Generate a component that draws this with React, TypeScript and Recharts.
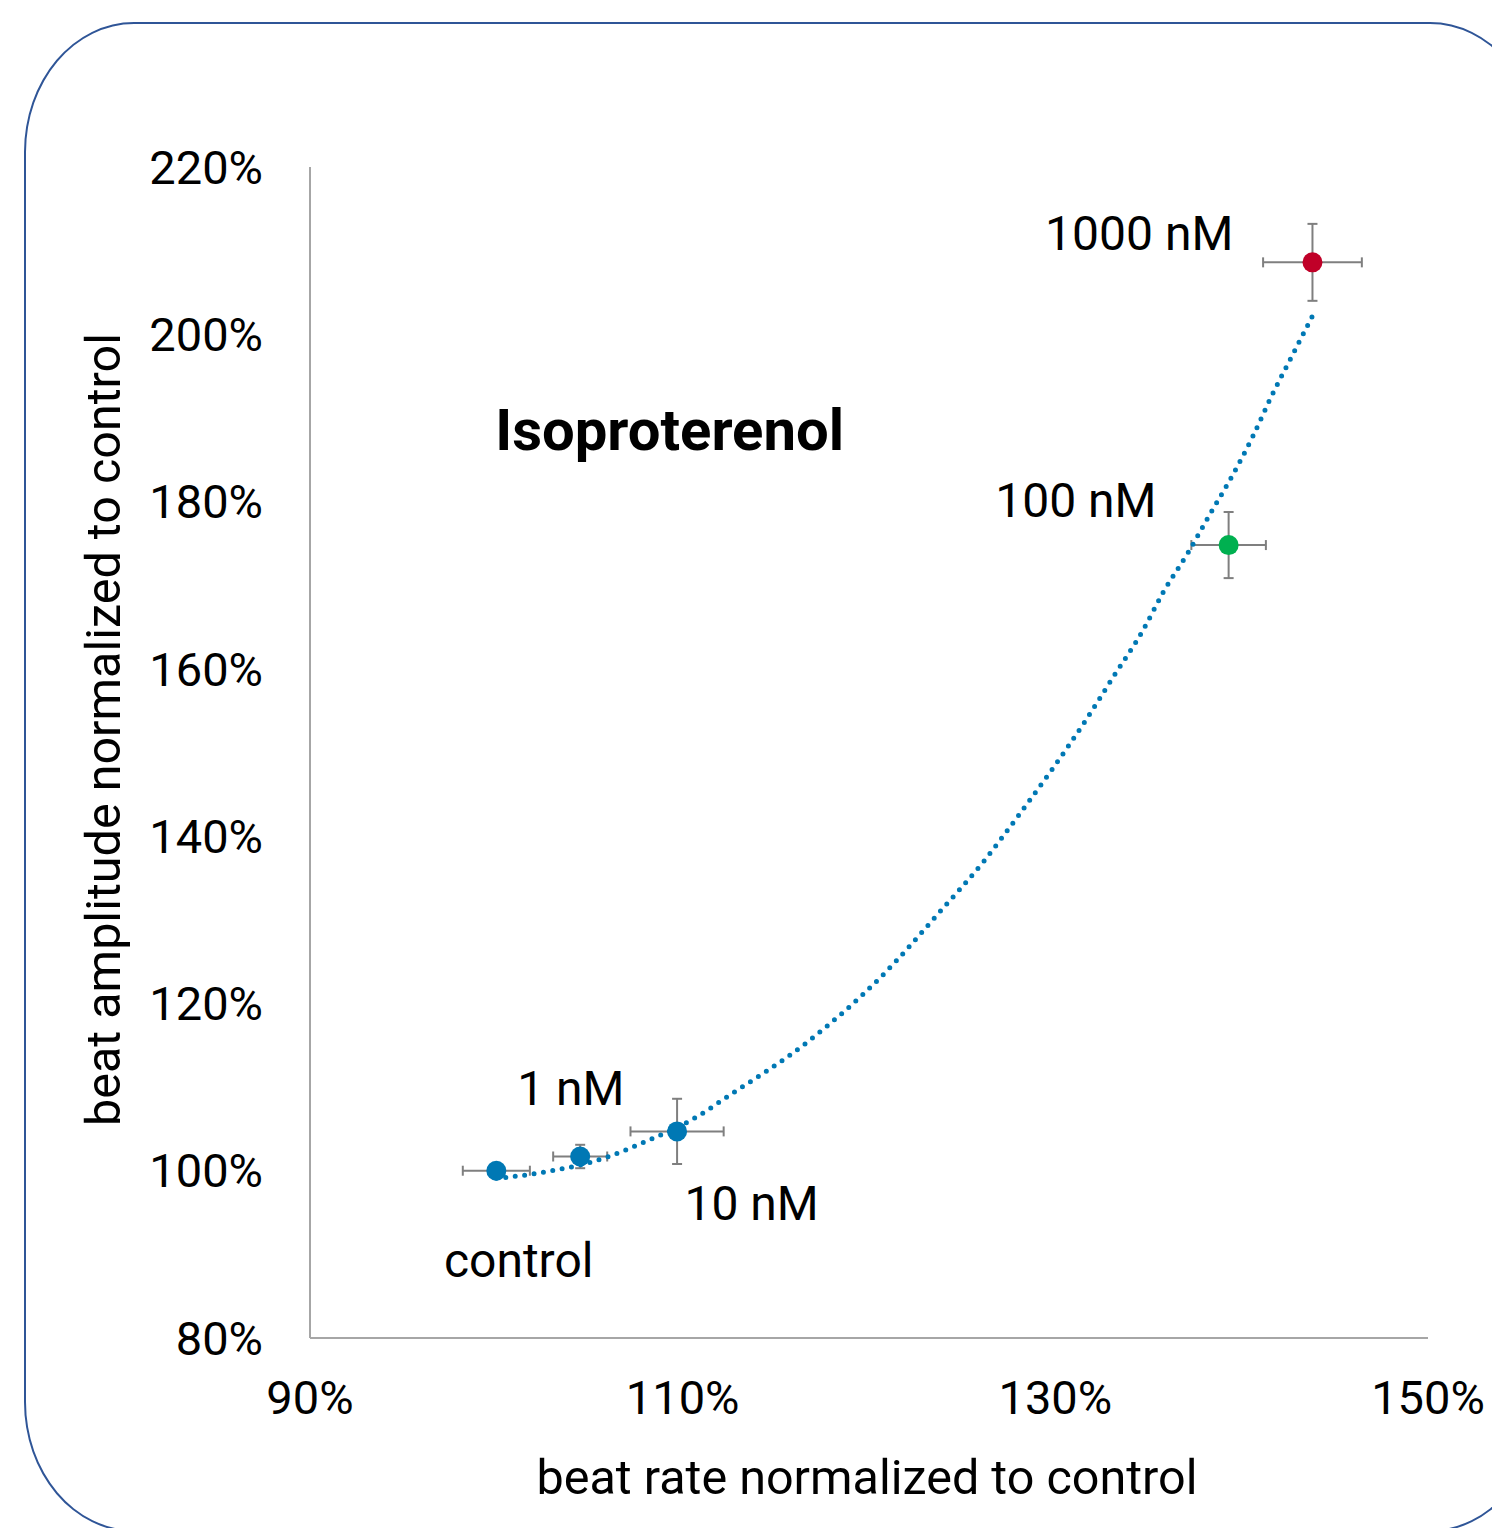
import React from 'react';
import {
  ScatterChart,
  Scatter,
  XAxis,
  YAxis,
  ErrorBar,
  ReferenceDot,
  Label,
  Cell,
} from 'recharts';

// ---- data ----
const doseLabels = ['control', '1 nM', '10 nM', '100 nM', '1000 nM'];
const beatRate = [100.0, 104.5, 109.7, 139.3, 143.8];
const beatAmplitude = [100.0, 101.7, 104.7, 174.8, 208.6];
const rateError = [1.8, 1.45, 2.5, 2.0, 2.65];
const amplitudeError = [0.3, 1.4, 3.9, 3.95, 4.6];
const pointColors = ['#0078B4', '#0078B4', '#0078B4', '#00B050', '#C00028'];

// trend line
const trendRate = [
  100.0, 100.5, 102.2, 105.9, 107.6, 110.8, 112.3, 116.7, 120.7, 123.9, 126.2, 128.0,
  129.8, 131.5, 133.1, 134.7, 135.8, 137.1, 138.3, 139.5, 140.6, 141.6, 142.7, 143.8,
];
const trendAmplitude = [
  99.1, 99.2, 99.7, 101.6, 103.1, 106.5, 108.7, 115.4, 123.3, 131.2, 137.1, 142.4,
  147.9, 153.4, 159.0, 164.6, 169.2, 173.8, 178.5, 183.1, 187.8, 192.6, 197.4, 202.2,
];

const xTicks = [90, 110, 130, 150];
const yTicks = [80, 100, 120, 140, 160, 180, 200, 220];

// annotation anchors (data coordinates of label centres)
const labelRate = [101.2, 104.0, 113.7, 131.1, 134.5];
const labelAmplitude = [89.3, 109.9, 96.1, 180.2, 212.1];
const drugName = 'Isoproterenol';
const drugRate = 109.3;
const drugAmplitude = 188.6;

const xTitle = 'beat rate normalized to control';
const yTitle = 'beat amplitude normalized to control';

const points = doseLabels.map((name, i) => ({
  name,
  x: beatRate[i],
  y: beatAmplitude[i],
  ex: rateError[i],
  ey: amplitudeError[i],
}));
const trend = trendRate.map((x, i) => ({ x, y: trendAmplitude[i] }));

const FONT = 'Roboto, "Noto Sans", sans-serif';
const BLUE = '#0078B4';
const MARKER_R = 10;

const XTitle = (props: any) => {
  const vb = props.viewBox;
  return (
    <text x={vb.x + vb.width / 2 - 2} y={vb.y + 156} textAnchor="middle" fontSize={48.5} fontFamily={FONT} fill="#000">
      {xTitle}
    </text>
  );
};

const YTitle = (props: any) => {
  const vb = props.viewBox;
  const cx = vb.x + 60;
  const cy = vb.y + vb.height / 2 - 23;
  return (
    <text
      x={cx}
      y={cy}
      transform={`rotate(-90, ${cx}, ${cy})`}
      textAnchor="middle"
      fontSize={48.5}
      fontFamily={FONT}
      fill="#000"
    >
      {yTitle}
    </text>
  );
};

const Marker = (p: any) => <circle cx={p.cx} cy={p.cy} r={MARKER_R} fill={p.fill} />;

const pct = (v: number) => `${v}%`;

export default function App() {
  return (
    <div
      style={{
        position: 'absolute',
        left: 0,
        top: 0,
        width: 1492,
        height: 1528,
        overflow: 'hidden',
        background: '#fff',
      }}
    >
      <div
        style={{
          position: 'absolute',
          left: 24,
          top: 22,
          width: 1516,
          height: 1510,
          border: '2.5px solid #2F5597',
          borderRadius: '110px / 130px',
          boxSizing: 'border-box',
          pointerEvents: 'none',
        }}
      />
      <div style={{ position: 'absolute', left: 0, top: 0 }}>
        <ScatterChart
          width={1492}
          height={1528}
          margin={{ top: 167, right: 64, bottom: 90, left: 60 }}
        >
          <XAxis
            type="number"
            dataKey="x"
            domain={[90, 150]}
            ticks={xTicks}
            tickFormatter={pct}
            axisLine={{ stroke: '#A6A6A6', strokeWidth: 2 }}
            tickLine={false}
            tickSize={0}
            tickMargin={43}
            height={100}
            tick={{ fontSize: 47, fill: '#000', fontFamily: FONT }}
            allowDataOverflow
          >
            <Label content={XTitle} />
          </XAxis>
          <YAxis
            type="number"
            dataKey="y"
            domain={[80, 220]}
            ticks={yTicks}
            tickFormatter={pct}
            axisLine={{ stroke: '#A6A6A6', strokeWidth: 2 }}
            tickLine={false}
            tickSize={0}
            tickMargin={47}
            width={250}
            tick={{ fontSize: 47, fill: '#000', fontFamily: FONT }}
            allowDataOverflow
          >
            <Label content={YTitle} />
          </YAxis>
          <Scatter
            data={trend}
            fill={BLUE}
            isAnimationActive={false}
            line={{ stroke: BLUE, strokeWidth: 5, strokeDasharray: '0 9.5', strokeLinecap: 'round' }}
            lineJointType="monotoneX"
            shape={() => <g />}
            legendType="none"
          />
          <Scatter data={points} isAnimationActive={false} shape={Marker}>
            {points.map((p, i) => (
              <Cell key={p.name} fill={pointColors[i]} />
            ))}
            <ErrorBar dataKey="ex" direction="x" width={5} stroke="#7F7F7F" strokeWidth={2} />
            <ErrorBar dataKey="ey" direction="y" width={5} stroke="#7F7F7F" strokeWidth={2} />
          </Scatter>
          {doseLabels.map((name, i) => (
            <ReferenceDot
              key={name}
              x={labelRate[i]}
              y={labelAmplitude[i]}
              r={0}
              fill="none"
              stroke="none"
              label={{ value: name, position: 'center', fontSize: 48, fill: '#000', fontFamily: FONT }}
            />
          ))}
          <ReferenceDot
            x={drugRate}
            y={drugAmplitude}
            r={0}
            fill="none"
            stroke="none"
            label={{ value: drugName, position: 'center', fontSize: 58, fontWeight: 700, fill: '#000', fontFamily: FONT }}
          />
        </ScatterChart>
      </div>
    </div>
  );
}
